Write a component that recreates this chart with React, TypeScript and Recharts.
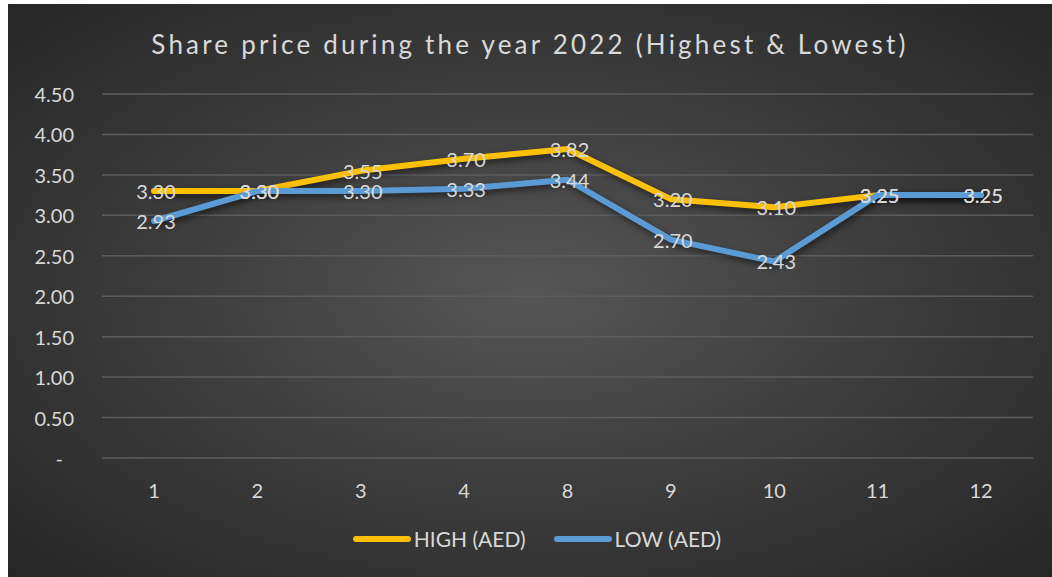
import { LineChart, Line, XAxis, YAxis, CartesianGrid, Legend, LabelList } from "recharts";

const months = ["1", "2", "3", "4", "8", "9", "10", "11", "12"];
const highAed = [3.3, 3.3, 3.55, 3.7, 3.82, 3.2, 3.1, 3.25, 3.25];
const lowAed = [2.93, 3.3, 3.3, 3.33, 3.44, 2.7, 2.43, 3.25, 3.25];
const yTicks = [0, 0.5, 1, 1.5, 2, 2.5, 3, 3.5, 4, 4.5];

const HIGH_COLOR = "#FFC000";
const LOW_COLOR = "#5B9BD5";
const TEXT_COLOR = "#D9D9D9";
const FONT = "Lato, 'Open Sans', sans-serif";

const chartData = months.map((m, i) => ({ month: m, high: highAed[i], low: lowAed[i] }));

const ValueLabel = (props: any) => {
  const { x, y, value } = props;
  return (
    <text x={x + 2} y={y} textAnchor="middle" dominantBaseline="central" fill={TEXT_COLOR} fontSize={20} fontFamily={FONT}>
      {Number(value).toFixed(2)}
    </text>
  );
};

const YTick = (props: any) => {
  const { x, y, payload } = props;
  const isZero = payload.value === 0;
  return (
    <text x={isZero ? x - 11 : x} y={y} textAnchor="end" dominantBaseline="central" fill={TEXT_COLOR} fontSize={20} fontFamily={FONT}>
      {isZero ? "-" : payload.value.toFixed(2)}
    </text>
  );
};

const LegendContent = () => {
  const items = [
    { name: "HIGH (AED)", color: HIGH_COLOR },
    { name: "LOW (AED)", color: LOW_COLOR },
  ];
  return (
    <div style={{ display: "flex", justifyContent: "center", gap: 28, paddingLeft: 14, fontFamily: FONT, fontSize: 21, color: TEXT_COLOR }}>
      {items.map((it) => (
        <div key={it.name} style={{ display: "flex", alignItems: "center" }}>
          <div style={{ width: 58, height: 6, borderRadius: 3, background: it.color, marginRight: 3 }} />
          <span>{it.name}</span>
        </div>
      ))}
    </div>
  );
};

export default function App() {
  return (
    <div
      style={{
        position: "absolute",
        left: 8,
        top: 4,
        width: 1044,
        height: 573,
        background: "radial-gradient(ellipse at 50% 50%, #565656 0%, #3c3c3c 50%, #262626 100%)",
      }}
    >
      <style>{`.recharts-line-curve { filter: drop-shadow(2px 3px 3px rgba(0,0,0,0.55)); }`}</style>
      <div
        style={{
          position: "absolute",
          top: 24,
          left: 0,
          width: "100%",
          textAlign: "center",
          fontFamily: FONT,
          fontSize: 26,
          letterSpacing: 3.2,
          color: TEXT_COLOR,
        }}
      >
        Share price during the year 2022 (Highest &amp; Lowest)
      </div>
      <LineChart width={1044} height={573} data={chartData} margin={{ top: 90, right: 19, left: 0, bottom: 79 }}>
        <CartesianGrid vertical={false} stroke="#5c5c5c" strokeWidth={1.5} />
        <XAxis
          dataKey="month"
          axisLine={false}
          tickLine={false}
          tickSize={0}
          tickMargin={26}
          height={40}
          padding={{ left: 52, right: 52 }}
          tick={{ fill: TEXT_COLOR, fontSize: 20, fontFamily: FONT }}
        />
        <YAxis
          width={94}
          domain={[0, 4.5]}
          ticks={yTicks}
          axisLine={false}
          tickLine={false}
          tickSize={0}
          tickMargin={28}
          tick={<YTick />}
          interval={0}
        />
        <Legend
          layout="horizontal"
          verticalAlign="middle"
          align="center"
          content={<LegendContent />}
          wrapperStyle={{ top: 522, left: 0, width: 1044 }}
        />
        <Line
          type="linear"
          dataKey="high"
          name="HIGH (AED)"
          stroke={HIGH_COLOR}
          strokeWidth={6}
          strokeLinecap="round"
          strokeLinejoin="round"
          dot={false}
          activeDot={false}
          isAnimationActive={false}
        >
          <LabelList dataKey="high" content={<ValueLabel />} />
        </Line>
        <Line
          type="linear"
          dataKey="low"
          name="LOW (AED)"
          stroke={LOW_COLOR}
          strokeWidth={6}
          strokeLinecap="round"
          strokeLinejoin="round"
          dot={false}
          activeDot={false}
          isAnimationActive={false}
        >
          <LabelList dataKey="low" content={<ValueLabel />} />
        </Line>
      </LineChart>
    </div>
  );
}
